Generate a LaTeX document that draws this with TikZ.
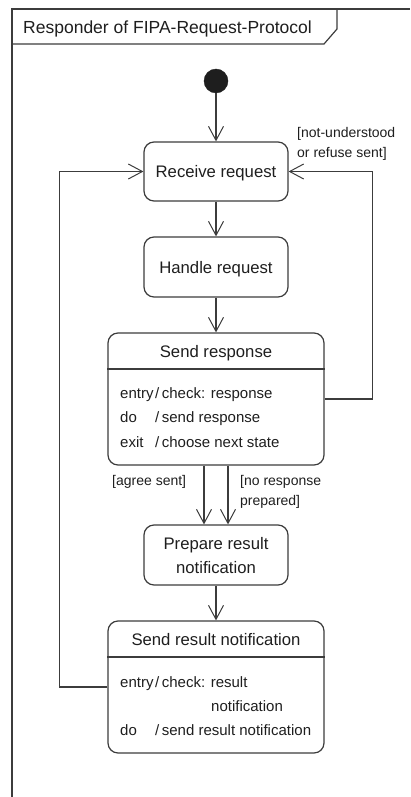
\documentclass[tikz,border=0pt]{standalone}
\usepackage{fontspec}
\setmainfont{Liberation Sans}
\usetikzlibrary{arrows.meta}
\definecolor{umlline}{HTML}{3C3C3C}
\definecolor{umltext}{HTML}{1E1E1E}
\tikzset{
  umlarrow/.style={-{Straight Barb[length=14pt,width=15pt,line width=1pt]}},
  conn/.style={draw=umlline,line width=1.2pt,umlarrow},
  plainline/.style={draw=umlline,line width=1.2pt},
  statebox/.style={draw=umlline,line width=1.2pt,rounded corners=10pt,
    inner sep=0pt,minimum width=144pt,minimum height=60pt},
  bigstate/.style={statebox,minimum width=216pt,minimum height=132pt},
  titletext/.style={font=\fontsize{16.7}{20}\selectfont,text=umltext,anchor=base,inner sep=0pt},
  entrytext/.style={font=\fontsize{15}{18}\selectfont,text=umltext,anchor=base west,inner sep=0pt},
  guardtext/.style={font=\fontsize{14}{20}\selectfont,text=umltext,align=left,inner sep=0pt},
}
\begin{document}
\begin{tikzpicture}[x=1pt,y=-1pt]
\useasboundingbox (0,0) rectangle (410,797);

% diagram frame and its name tab
\draw[plainline] (12,797) -- (12,9) -- (410,9);
\draw[plainline] (12,44) -- (324,44) -- (337,29) -- (337,9);
\node[anchor=base west,inner sep=0pt,text=umltext,font=\fontsize{17.5}{20}\selectfont]
  (frametitle) at (23,34) {Responder of FIPA-Request-Protocol};

% initial pseudostate
\node[circle,fill=umltext,draw=umltext,minimum size=24pt,inner sep=0pt] (init) at (216,81) {};

% simple states
\node[statebox,minimum height=59pt] (recv) at (216,171.5) {};
\node[titletext] (recvtxt) at (216,177) {Receive request};

\node[statebox] (handle) at (216,267) {};
\node[titletext] (handletxt) at (216,273) {Handle request};

\node[statebox] (prep) at (216,555) {};
\node[titletext] (preptxtA) at (216,549) {Prepare result};
\node[titletext] (preptxtB) at (216,573) {notification};

% state with internal activities: Send response
\node[bigstate] (sresp) at (216,399) {};
\draw[plainline] (sresp.west |- 0,369) coordinate (srespdivL) -- (sresp.east |- 0,369) coordinate (srespdivR);
\node[titletext] (sresptitle) at (216,357) {Send response};
\node[entrytext] (srespkA) at (120,398) {entry};
\node[entrytext] (srespaA) at (155,398) {/\,check: response};
\node[entrytext] (srespkB) at (120,422) {do};
\node[entrytext] (srespaB) at (155,422) {/\,send response};
\node[entrytext] (srespkC) at (120,447) {exit};
\node[entrytext] (srespaC) at (155,447) {/\,choose next state};

% state with internal activities: Send result notification
\node[bigstate] (sres) at (216,687) {};
\draw[plainline] (sres.west |- 0,657) coordinate (sresdivL) -- (sres.east |- 0,657) coordinate (sresdivR);
\node[titletext] (srestitle) at (216,645) {Send result notification};
\node[entrytext] (sreskA) at (120,687) {entry};
\node[entrytext] (sresaA) at (155,687) {/\,check: result};
\node[entrytext] (sresaA2) at (211,711) {notification};
\node[entrytext] (sreskB) at (120,735) {do};
\node[entrytext] (sresaB) at (155,735) {/\,send result notification};

% transitions
\draw[conn] (init) -- (recv.north);
\draw[conn] (recv.south) -- (handle.north);
\draw[conn] (handle.south) -- (sresp.north);
\draw[conn] ([xshift=-12pt]sresp.south) -- ([xshift=-12pt]prep.north);
\draw[conn] ([xshift=12pt]sresp.south) -- ([xshift=12pt]prep.north);
\draw[conn] (prep.south) -- (sres.north);
\draw[conn] (sresp.east) -- ++(48,0) |- (recv.east);
\draw[conn] (sres.west) -- ++(-48,0) |- (recv.west);

% guards
\node[guardtext,anchor=north west] (guardreject) at (297,127) {[not-understood\\or refuse sent]};
\node[guardtext,anchor=north west] (guardagree) at (112,475) {[agree sent]};
\node[guardtext,anchor=north west] (guardnoresp) at (240,475) {[no response\\prepared]};
\end{tikzpicture}
\end{document}
